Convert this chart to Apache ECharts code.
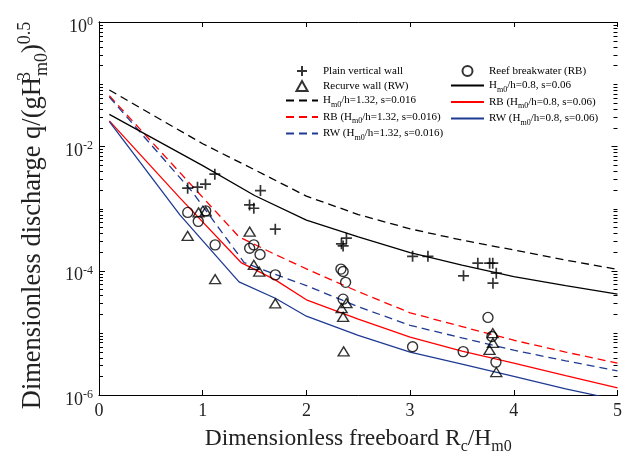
<!DOCTYPE html>
<html><head><meta charset="utf-8">
<script src="https://cdn.jsdelivr.net/npm/echarts@6/dist/echarts.min.js"></script>
<style>html,body{margin:0;padding:0;background:#fff}#c{width:625px;height:461px}</style>
</head><body><div id="c"></div>
<script>
// ---------- data ----------
const pvwX = [0.855,0.950,1.027,1.117,1.452,1.493,1.557,1.700,2.386,2.338,2.354,3.024,3.172,3.515,3.653,3.767,3.797,3.831,3.799];
const pvwY = [2.12e-3,2.20e-3,2.46e-3,3.56e-3,1.14e-3,1.01e-3,1.94e-3,4.65e-4,3.33e-4,2.70e-4,2.50e-4,1.70e-4,1.70e-4,8.25e-5,1.32e-4,1.32e-4,1.32e-4,9.12e-5,6.30e-5];

const rbX = [0.856,0.957,1.029,1.120,1.453,1.493,1.553,1.700,2.333,2.354,2.378,2.354,3.024,3.512,3.751,3.789,3.828];
const rbY = [8.65e-4,6.21e-4,9.15e-4,2.60e-4,2.30e-4,2.60e-4,1.82e-4,8.56e-5,1.06e-4,9.68e-5,6.49e-5,3.48e-5,5.96e-6,4.99e-6,1.77e-5,8.71e-6,3.38e-6];

const rwX = [0.855,0.960,1.029,1.120,1.453,1.493,1.545,1.700,2.386,2.340,2.354,2.359,3.797,3.799,3.766,3.831];
const rwY = [3.62e-4,8.65e-4,8.98e-4,7.30e-5,4.25e-4,1.24e-4,9.68e-5,2.98e-5,3.00e-5,2.49e-5,1.81e-5,5.04e-6,9.89e-6,6.91e-6,5.33e-6,2.34e-6];

const blackDashX = [0.1,1.0,1.5,2.0,2.5,3.0,3.5,4.0,4.5,5.0];
const blackDashY = [8.05e-2,1.1e-2,4.2e-3,1.58e-3,8.0e-4,4.7e-4,3.1e-4,2.15e-4,1.48e-4,1.05e-4];
const blackSolidX = [0.1,1.0,1.5,2.0,2.5,3.0,3.5,4.0,4.5,5.0];
const blackSolidY = [3.26e-2,4.9e-3,1.62e-3,6.5e-4,3.5e-4,1.95e-4,1.23e-4,8.0e-5,5.75e-5,4.2e-5];
const redDashX = [0.1,1.35,1.7,2.0,2.5,3.0,3.5,4.0,4.5,5.0];
const redDashY = [6.5e-2,3.5e-4,1.82e-4,1.07e-4,4.6e-5,2.1e-5,1.26e-5,7.6e-6,4.9e-6,3.25e-6];
const blueDashX = [0.1,0.9,1.4,1.7,2.0,2.5,3.0,3.5,4.0,4.5,5.0];
const blueDashY = [6.2e-2,1.85e-3,1.35e-4,8.7e-5,5.75e-5,2.63e-5,1.32e-5,8.3e-6,5.25e-6,3.55e-6,2.45e-6];
const redSolidX = [0.1,0.78,1.37,1.7,2.0,2.5,3.0,3.5,4.0,4.5,5.0];
const redSolidY = [2.57e-2,1.48e-3,1.35e-4,7.1e-5,3.4e-5,1.66e-5,8.5e-6,5.1e-6,3.25e-6,2.05e-6,1.3e-6];
const blueSolidX = [0.1,0.78,1.35,1.7,2.0,2.5,3.0,3.5,4.0,4.5,5.0];
const blueSolidY = [2.5e-2,7.9e-4,6.6e-5,3.6e-5,1.85e-5,9.1e-6,4.9e-6,3.15e-6,2.0e-6,1.26e-6,8.3e-7];

const xTicks = [0,1,2,3,4,5];
const yLabelExps = [0,-2,-4,-6];

const names = {
  pvw: 'Plain vertical wall', rw: 'Recurve wall (RW)', rb: 'Reef breakwater (RB)',
  bd: 'H_m0/h=1.32, s=0.016', rd: 'RB (H_m0/h=1.32, s=0.016)', ud: 'RW (H_m0/h=1.32, s=0.016)',
  bs: 'H_m0/h=0.8, s=0.06', rs: 'RB (H_m0/h=0.8, s=0.06)', us: 'RW (H_m0/h=0.8, s=0.06)'
};

// ---------- helpers ----------
const serif = 'Liberation Serif';
const zip = (xs, ys) => xs.map((x, i) => [x, ys[i]]);
const RED = '#ff0000', BLUE = '#1f3a93', BLACK = '#000000';
const plusPath = 'path://M5,0L5,10M0,5L10,5';
const triPath = 'path://M5,0L10,9L0,9Z';

function legendRich(name){
  const p = name.split('_m0');
  if (p.length === 1) return '{n|' + name + '}';
  return '{n|' + p[0] + '}{s|m0}{n|' + p[1] + '}';
}
const legendTextStyle = {
  color: '#000',
  rich: {
    n: {fontFamily: serif, fontSize: 11, lineHeight: 16, verticalAlign: 'middle', color: '#000'},
    s: {fontFamily: serif, fontSize: 8, verticalAlign: 'bottom', color: '#000'}
  }
};
const lineItem = name => ({name, itemStyle: {color: 'transparent', borderColor: 'transparent', borderWidth: 0, opacity: 0}});

function scatter(name, xs, ys, symbol, size, bw){
  return {
    type: 'scatter', name, data: zip(xs, ys), symbol, symbolSize: size, symbolKeepAspect: true, z: 5,
    itemStyle: {color: 'transparent', borderColor: BLACK, borderWidth: bw},
    emphasis: {disabled: true}
  };
}
function line(name, xs, ys, color, dashed){
  return {
    type: 'line', name, data: zip(xs, ys), showSymbol: false, symbol: 'none', z: 3, clip: true,
    lineStyle: {color, width: 1.3, type: dashed ? [8, 5] : 'solid'},
    itemStyle: {color},
    emphasis: {disabled: true}
  };
}

const legendCommon = {
  orient: 'vertical', top: 65, itemWidth: 32, itemHeight: 10, itemGap: 3, padding: 0,
  selectedMode: false, formatter: legendRich, textStyle: legendTextStyle
};

const chart = echarts.init(document.getElementById('c'), null, {renderer: 'canvas'});
const option = {
  animation: false,
  backgroundColor: '#fff',
  grid: {left: 99, right: 3.5, top: 22, bottom: 66},
  legend: [
    Object.assign({}, legendCommon, {left: 285,
      data: [names.pvw, names.rw, lineItem(names.bd), lineItem(names.rd), lineItem(names.ud)]}),
    Object.assign({}, legendCommon, {left: 450, itemWidth: 33,
      data: [names.rb, lineItem(names.bs), lineItem(names.rs), lineItem(names.us)]})
  ],
  xAxis: [
    {type: 'value', min: 0, max: 5, interval: 1, position: 'bottom',
     axisLine: {show: true, lineStyle: {color: '#000', width: 1}},
     axisTick: {show: true, inside: true, length: 5, lineStyle: {color: '#000'}},
     axisLabel: {show: true, margin: 7, fontFamily: serif, fontSize: 18, color: '#222',
       formatter: v => xTicks.includes(v) ? String(v) : ''},
     splitLine: {show: false},
     name: '{n|Dimensionless freeboard R}{s|c}{n|/H}{s|m0}', nameLocation: 'middle', nameGap: 28,
     nameTextStyle: {rich: {
       n: {fontFamily: serif, fontSize: 23.5, lineHeight: 32, verticalAlign: 'middle', color: '#222'},
       s: {fontFamily: serif, fontSize: 16, verticalAlign: 'bottom', color: '#222'}
     }}},
    {type: 'value', min: 0, max: 5, interval: 1, position: 'top',
     axisLine: {show: true, lineStyle: {color: '#000', width: 1}},
     axisTick: {show: true, inside: true, length: 5, lineStyle: {color: '#000'}},
     axisLabel: {show: false}, splitLine: {show: false}}
  ],
  yAxis: [
    {type: 'log', logBase: 10, min: 1e-6, max: 1, position: 'left',
     axisLine: {show: true, lineStyle: {color: '#000', width: 1}},
     axisTick: {show: false}, splitLine: {show: false}, minorTick: {show: false},
     axisLabel: {show: true, margin: 6, color: '#222',
       formatter: v => {
         const e = Math.round(Math.log10(v));
         return yLabelExps.includes(e) ? '{n|10}{p|' + e + '}' : '';
       },
       rich: {
         n: {fontFamily: serif, fontSize: 18, lineHeight: 18, verticalAlign: 'bottom', color: '#222'},
         p: {fontFamily: serif, fontSize: 12, lineHeight: 28, verticalAlign: 'middle', color: '#222'}
       }},
     name: '{n|Dimensionless discharge q/(gH}{p3|3}{s|m0}{n|)}{p|0.5}',
     nameLocation: 'middle', nameGap: 48, nameRotate: 90,
     nameTextStyle: {padding: [0, 14, 0, 0], rich: {
       n: {fontFamily: serif, fontSize: 26.5, lineHeight: 35, verticalAlign: 'middle', color: '#222'},
       s: {fontFamily: serif, fontSize: 18, verticalAlign: 'bottom', color: '#222'},
       p: {fontFamily: serif, fontSize: 18, verticalAlign: 'top', color: '#222'},
       p3: {fontFamily: serif, fontSize: 18, verticalAlign: 'top', width: 1, color: '#222'}
     }}},
    {type: 'log', logBase: 10, min: 1e-6, max: 1, position: 'right',
     axisLine: {show: true, lineStyle: {color: '#000', width: 1}},
     axisTick: {show: false}, axisLabel: {show: false}, splitLine: {show: false}}
  ],
  series: [
    line(names.bd, blackDashX, blackDashY, BLACK, true),
    line(names.rd, redDashX, redDashY, RED, true),
    line(names.ud, blueDashX, blueDashY, BLUE, true),
    line(names.bs, blackSolidX, blackSolidY, BLACK, false),
    line(names.rs, redSolidX, redSolidY, RED, false),
    line(names.us, blueSolidX, blueSolidY, BLUE, false),
    scatter(names.pvw, pvwX, pvwY, plusPath, 11, 1.7),
    scatter(names.rb, rbX, rbY, 'circle', 10, 1.4),
    scatter(names.rw, rwX, rwY, triPath, [11, 10], 1.4)
  ]
};
chart.setOption(option);

// log-axis ticks (major at labelled decades, minor at 2..9 and odd decades), both sides
const xL = chart.convertToPixel({xAxisIndex: 0}, 0);
const xR = chart.convertToPixel({xAxisIndex: 0}, 5);
const g = [];
for (let e = -6; e <= 0; e++) {
  for (let k = 1; k <= 9; k++) {
    if (e === 0 && k > 1) break;
    const v = k * Math.pow(10, e);
    const y = Math.round(chart.convertToPixel({yAxisIndex: 0}, v)) + 0.5;
    const major = (k === 1 && yLabelExps.includes(e));
    const len = major ? 6 : 4;
    g.push({type: 'line', silent: true, z: 10, shape: {x1: xL, y1: y, x2: xL + len, y2: y}, style: {stroke: '#000', lineWidth: 1}});
    g.push({type: 'line', silent: true, z: 10, shape: {x1: xR - len, y1: y, x2: xR, y2: y}, style: {stroke: '#000', lineWidth: 1}});
  }
}
chart.setOption({graphic: g});
</script>
</body></html>
